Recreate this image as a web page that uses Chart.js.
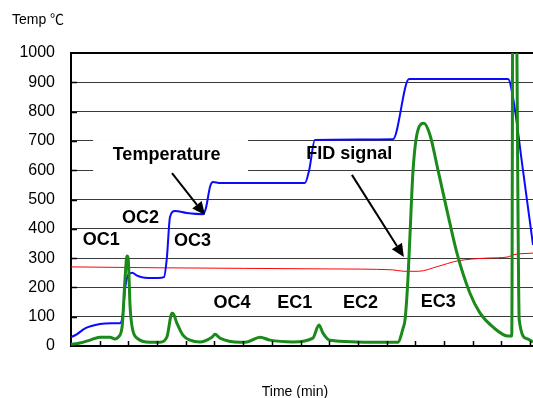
<!DOCTYPE html>
<html>
<head>
<meta charset="utf-8">
<script src="https://cdn.jsdelivr.net/npm/chart.js@4"></script>
<style>
  html, body { margin: 0; padding: 0; background: #fff; }
  #wrap { width: 533px; height: 398px; position: relative; }
</style>
</head>
<body>
<div id="wrap"><canvas id="tempChart"></canvas></div>
<script>
// temperature program (blue)
const tempTime = [0, 0.2, 0.49, 1.01, 1.4, 1.71, 1.81, 1.88, 1.99, 2.13, 2.3, 2.47, 3.03, 3.24, 3.34, 3.45, 3.62, 4.04, 4.6, 4.7, 4.85, 4.95, 5.2, 8.15, 8.3, 8.5, 11.22, 11.78, 15.23, 15.4, 15.75, 16.1];
const tempValues = [30, 40, 60, 75, 78, 78, 112, 191, 242, 250, 240, 235, 232, 235, 300, 440, 461, 454, 450, 470, 545, 560, 556, 556, 600, 703, 706, 911, 911, 850, 600, 345];

// FID signal (green)
const fidTime = [0, 0.31, 0.66, 1.01, 1.36, 1.53, 1.64, 1.78, 1.88, 1.95, 1.99, 2.06, 2.13, 2.3, 2.75, 3.1, 3.34, 3.52, 3.55, 3.69, 3.9, 4.15, 4.49, 4.91, 5.02, 5.19, 5.89, 6.13, 6.59, 6.93, 7.74, 8.43, 8.64, 8.78, 9.02, 10.77, 11.39, 11.57, 11.64, 11.74, 11.81, 11.92, 12.09, 12.3, 12.51, 12.79, 13.1, 13.45, 13.9, 14.25, 14.7, 15.23, 15.36, 15.4, 15.5, 15.62, 15.89, 16.1];
const fidValues = [6, 10, 20, 30, 30, 24, 30, 65, 225, 307, 300, 133, 65, 27, 13, 13, 30, 112, 112, 78, 37, 20, 14, 30, 40, 27, 13, 14, 30, 20, 14, 27, 72, 44, 20, 13, 13, 60, 89, 225, 372, 600, 737, 760, 720, 600, 464, 317, 181, 113, 65, 34, 34, 1300, 1300, 89, 25, 14];

// laser / baseline trace (red)
const baseTime = [0, 3, 6, 9, 11.2, 11.6, 12.1, 12.8, 13.45, 14.5, 15.23, 15.4, 16.1];
const baseValues = [270, 267, 265, 263, 260, 255, 255, 272, 290, 300, 304, 311, 317];

const yTicks = [0, 100, 200, 300, 400, 500, 600, 700, 800, 900, 1000];
const xTickMarks = [1, 2, 3, 4, 5, 6, 7, 8, 9, 10, 11, 12, 13, 14, 15, 16];

const peakNames = ["OC1", "OC2", "OC3", "OC4", "EC1", "EC2", "EC3"];
const peakSpots = [[1.05, 362], [2.42, 437], [4.23, 358], [5.61, 147], [7.8, 147], [10.09, 147], [12.8, 150]];

const callouts = [
  { text: "Temperature", at: [3.33, 652], from: [3.52, 590], to: [4.67, 447], box: [0.77, 6.17, 703, 594] },
  { text: "FID signal", at: [9.7, 655], from: [9.79, 584], to: [11.6, 304] }
];

const toPoints = (xs, ys) => xs.map((x, i) => ({ x: x, y: ys[i] }));

const FONT = "'Liberation Sans', Arial, 'Noto Sans CJK JP', sans-serif";
Chart.defaults.font.family = FONT;
Chart.defaults.color = "#000";

function drawArrow(ctx, x1, y1, x2, y2) {
  const ang = Math.atan2(y2 - y1, x2 - x1);
  const len = 13, half = 6;
  const bx = x2 - len * Math.cos(ang), by = y2 - len * Math.sin(ang);
  ctx.beginPath();
  ctx.moveTo(x1, y1);
  ctx.lineTo(bx, by);
  ctx.stroke();
  ctx.beginPath();
  ctx.moveTo(x2, y2);
  ctx.lineTo(bx + half * Math.sin(ang), by - half * Math.cos(ang));
  ctx.lineTo(bx - half * Math.sin(ang), by + half * Math.cos(ang));
  ctx.closePath();
  ctx.fill();
}

const decorations = {
  id: "decorations",
  beforeDatasetsDraw(chart) {
    const { ctx, scales: { x, y } } = chart;
    ctx.save();
    ctx.fillStyle = "#fff";
    callouts.forEach(c => {
      if (!c.box) return;
      const l = x.getPixelForValue(c.box[0]), r = x.getPixelForValue(c.box[1]);
      const t = y.getPixelForValue(c.box[2]), b = y.getPixelForValue(c.box[3]);
      ctx.fillRect(l, t, r - l, b - t);
    });
    ctx.restore();
  },
  afterDatasetsDraw(chart) {
    const { ctx, chartArea, scales: { x, y } } = chart;
    ctx.save();
    // inward tick marks
    ctx.strokeStyle = "#000";
    ctx.lineWidth = 1.5;
    xTickMarks.forEach(v => {
      const px = Math.round(x.getPixelForValue(v)) + 0.5;
      ctx.beginPath();
      ctx.moveTo(px, chartArea.bottom);
      ctx.lineTo(px, chartArea.bottom - 5);
      ctx.stroke();
    });
    yTicks.slice(1, -1).forEach(v => {
      const py = Math.round(y.getPixelForValue(v)) + 0.5;
      ctx.beginPath();
      ctx.moveTo(chartArea.left, py);
      ctx.lineTo(chartArea.left + 6, py);
      ctx.stroke();
    });

    ctx.fillStyle = "#000";
    ctx.font = "bold 18px " + FONT;
    ctx.textAlign = "center";
    ctx.textBaseline = "middle";
    peakNames.forEach((name, i) => {
      ctx.fillText(name, x.getPixelForValue(peakSpots[i][0]), y.getPixelForValue(peakSpots[i][1]));
    });
    ctx.lineWidth = 2;
    callouts.forEach(c => {
      ctx.fillText(c.text, x.getPixelForValue(c.at[0]), y.getPixelForValue(c.at[1]));
      drawArrow(ctx,
        x.getPixelForValue(c.from[0]), y.getPixelForValue(c.from[1]),
        x.getPixelForValue(c.to[0]), y.getPixelForValue(c.to[1]));
    });
    ctx.restore();
  },
  afterDraw(chart) {
    const { ctx } = chart;
    ctx.save();
    ctx.fillStyle = "#000";
    ctx.font = "14px " + FONT;
    ctx.textBaseline = "middle";
    ctx.textAlign = "left";
    ctx.fillText("Temp ℃", 12, 20);
    ctx.textAlign = "center";
    ctx.fillText("Time (min)", 295, 392);
    ctx.restore();
  }
};

const tempChart = new Chart(document.getElementById("tempChart"), {
  type: "line",
  data: {
    datasets: [
      {
        label: "FID signal",
        data: toPoints(fidTime, fidValues),
        borderColor: "#1a8a1a",
        borderWidth: 3,
        cubicInterpolationMode: "monotone",
        pointRadius: 0,
        clip: 0
      },
      {
        label: "Temperature",
        data: toPoints(tempTime, tempValues),
        borderColor: "#0a0aff",
        borderWidth: 2,
        cubicInterpolationMode: "monotone",
        pointRadius: 0,
        clip: 0
      },
      {
        label: "Baseline",
        data: toPoints(baseTime, baseValues),
        borderColor: "#ff0000",
        borderWidth: 1,
        cubicInterpolationMode: "monotone",
        pointRadius: 0,
        clip: 0
      }
    ]
  },
  options: {
    responsive: true,
    maintainAspectRatio: false,
    animation: false,
    layout: { padding: { top: 53, left: 0, right: 0, bottom: 0 } },
    plugins: {
      legend: { display: false },
      tooltip: { enabled: false }
    },
    scales: {
      x: {
        type: "linear",
        min: 0,
        max: 16.1,
        ticks: { display: false },
        grid: { display: false },
        border: { display: true, color: "#000", width: 2 },
        afterFit: s => { s.height = 52; }
      },
      y: {
        min: 0,
        max: 1000,
        afterBuildTicks: s => { s.ticks = yTicks.map(v => ({ value: v })); },
        ticks: {
          padding: 16,
          font: { size: 16 },
          callback: v => String(v)
        },
        grid: {
          drawTicks: false,
          color: c => (c.tick && c.tick.value === 1000 ? "#000" : "#3a3a3a"),
          lineWidth: c => (c.tick && c.tick.value === 1000 ? 2 : 1)
        },
        border: { display: true, color: "#000", width: 2 },
        afterFit: s => { s.width = 71; }
      }
    }
  },
  plugins: [decorations]
});
</script>
</body>
</html>
